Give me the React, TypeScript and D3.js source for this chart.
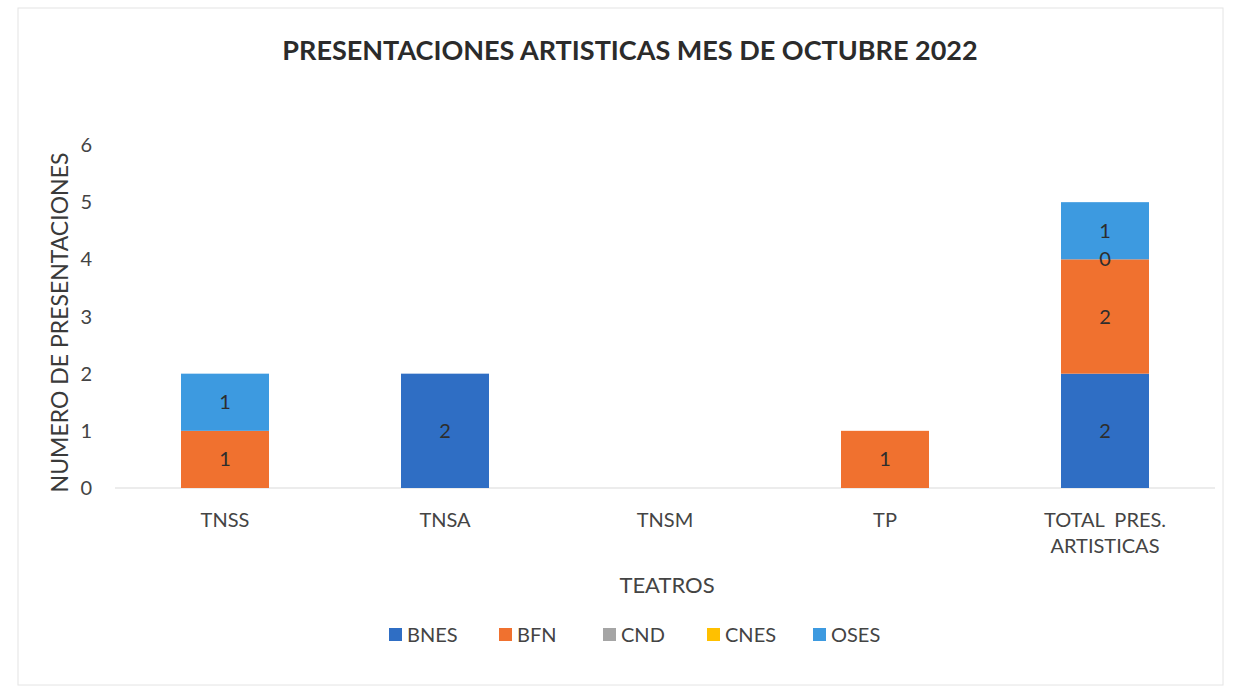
import React from "react";
import * as d3 from "d3";

const categories = ["TNSS", "TNSA", "TNSM", "TP", "TOTAL  PRES.|ARTISTICAS"];
const seriesNames = ["BNES", "BFN", "CND", "CNES", "OSES"];
const BNES = [null, 2, null, null, 2];
const BFN = [1, null, null, 1, 2];
const CND = [null, null, null, null, null];
const CNES = [null, null, null, null, 0];
const OSES = [1, null, null, null, 1];
const yTicks = [0, 1, 2, 3, 4, 5, 6];
const colors = ["#2f6ec4", "#f0712f", "#a5a5a5", "#ffc000", "#3d9ae0"];

const W = 1239;
const H = 693;
const FONT = "Lato, 'Open Sans', sans-serif";

export default function App() {
  const values = [BNES, BFN, CND, CNES, OSES];
  const x = d3.scaleBand<string>().domain(categories).range([115, 1215]).paddingInner(0.6).paddingOuter(0.3);
  const y = d3.scaleLinear().domain([0, 6]).range([488, 145]);
  const rows = categories.map((c, i) => {
    const r: any = { cat: c };
    seriesNames.forEach((s, k) => (r[s] = values[k][i] ?? 0));
    return r;
  });
  const stacked = d3.stack<any>().keys(seriesNames)(rows);
  const bw = x.bandwidth();

  return (
    <div style={{ position: "fixed", left: 0, top: 0 }}>
      <svg width={W} height={H} style={{ display: "block", background: "#fff" }} fontFamily={FONT}>
        <rect x={18} y={8} width={1205} height={677} fill="none" stroke="#e4e4e4" strokeWidth={1} />
        <text x={630} y={60} textAnchor="middle" fontSize={27} fontWeight="bold" fill="#2b2b2b">
          PRESENTACIONES ARTISTICAS MES DE OCTUBRE 2022
        </text>
        {yTicks.map((t) => (
          <text key={t} x={92} y={y(t)} dy="0.35em" textAnchor="end" fontSize={20} fill="#444">
            {t}
          </text>
        ))}
        <text transform={`translate(68,${(y(0) + y(6)) / 2 + 6}) rotate(-90)`} textAnchor="middle" fontSize={23} fill="#3a3a3a">
          NUMERO DE PRESENTACIONES
        </text>
        <line x1={115} x2={1215} y1={y(0)} y2={y(0)} stroke="#d9d9d9" strokeWidth={1} />
        {stacked.map((layer, k) =>
          layer.map((d, i) => {
            const v = values[k][i];
            if (v === null || v === undefined) return null;
            const h = y(d[0]) - y(d[1]);
            return h > 0 ? (
              <rect key={`${k}-${i}`} x={x(categories[i])} y={y(d[1])} width={bw} height={h} fill={colors[k]} />
            ) : null;
          })
        )}
        {stacked.map((layer, k) =>
          layer.map((d, i) => {
            const v = values[k][i];
            if (v === null || v === undefined) return null;
            const cx = (x(categories[i]) as number) + bw / 2;
            return (
              <text key={`t${k}-${i}`} x={cx} y={(y(d[0]) + y(d[1])) / 2} dy="0.35em" textAnchor="middle" fontSize={20} fill="#2d2d2d">
                {v}
              </text>
            );
          })
        )}
        {categories.map((c) => {
          const lines = c.split("|");
          const cx = (x(c) as number) + bw / 2;
          return (
            <text key={c} x={cx} y={527} textAnchor="middle" fontSize={20} fill="#444">
              {lines.map((l, j) => (
                <tspan key={j} x={cx} dy={j === 0 ? 0 : 26} style={{ whiteSpace: "pre" }}>
                  {l}
                </tspan>
              ))}
            </text>
          );
        })}
        <text x={667} y={593} textAnchor="middle" fontSize={22} fill="#444">
          TEATROS
        </text>
        {seriesNames.map((s, k) => {
          const lx = [389, 499, 603, 707, 813][k];
          return (
            <g key={s}>
              <rect x={lx} y={628} width={13} height={13} fill={colors[k]} />
              <text x={lx + 18} y={635} dy="0.35em" fontSize={20} fill="#444">
                {s}
              </text>
            </g>
          );
        })}
      </svg>
    </div>
  );
}
